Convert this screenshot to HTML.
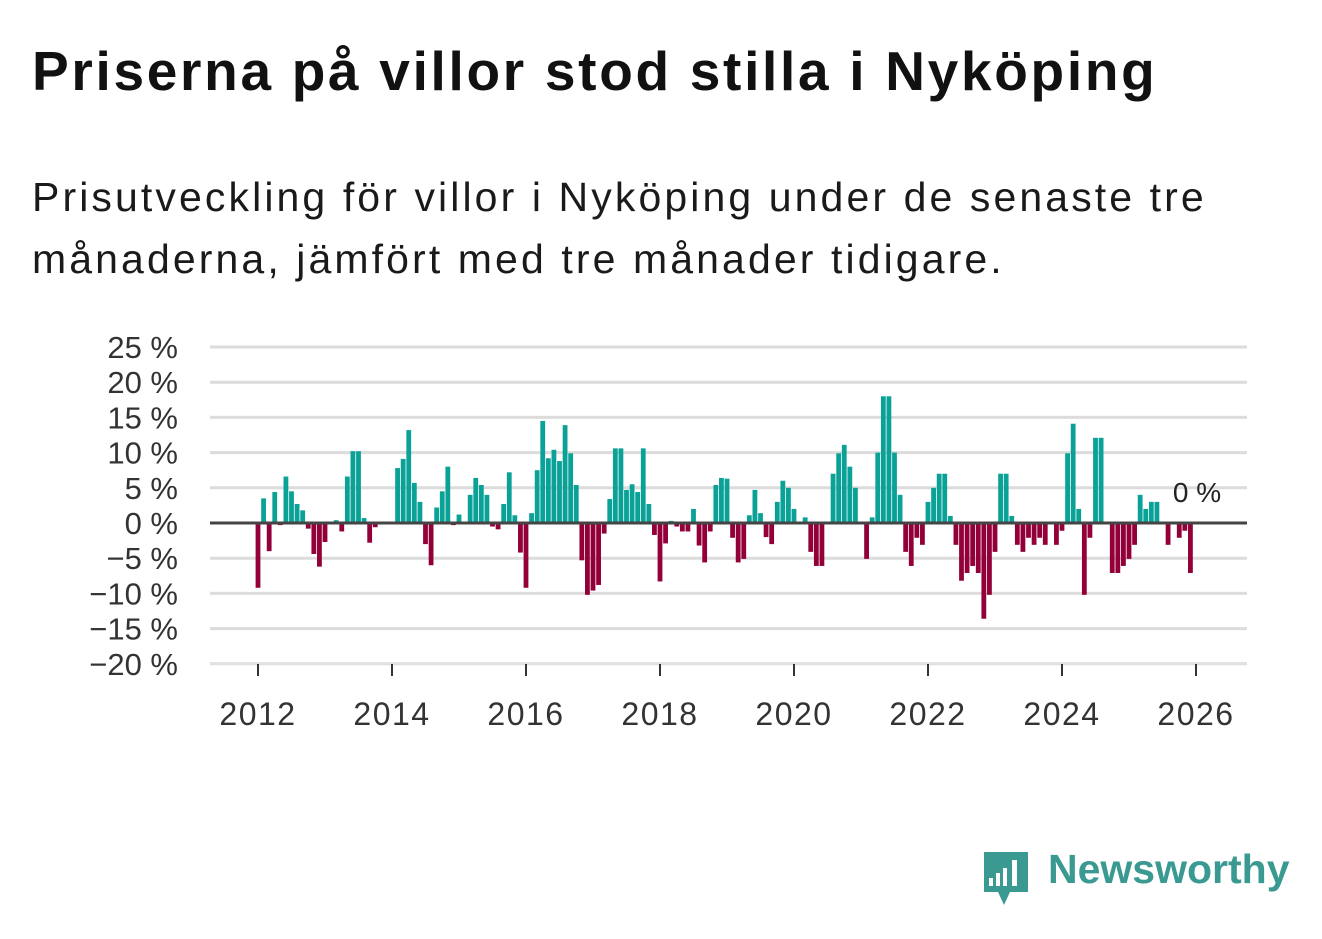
<!DOCTYPE html>
<html><head><meta charset="utf-8"><style>
body{margin:0;background:#fff;width:1322px;height:939px;overflow:hidden;font-family:"Liberation Sans","DejaVu Sans",sans-serif}
#t{position:absolute;left:32px;top:36px;font-size:55px;line-height:70px;font-weight:bold;color:#111;letter-spacing:2.7px;white-space:nowrap}
#s{position:absolute;left:32px;top:166px;font-size:41px;line-height:62px;color:#1a1a1a;width:1250px;letter-spacing:3.1px}
svg{position:absolute;left:0;top:0}
#logo{position:absolute;left:1048px;top:846px;font-size:41px;font-weight:bold;color:#3a9a92}
</style></head><body>
<div id="t">Priserna på villor stod stilla i Nyköping</div>
<div id="s">Prisutveckling för villor i Nyköping under de senaste tre månaderna, jämfört med tre månader tidigare.</div>
<svg width="1322" height="939" id="chart">
<g>
<path d="M984 852 h44 v40 h-18 l-6 13 l-6 -13 h-14 z" fill="#3a9a92"/>
<rect x="989" y="878" width="4" height="8" fill="#fff"/><rect x="996" y="873" width="4" height="13" fill="#fff"/><rect x="1003" y="868" width="4" height="18" fill="#fff"/><rect x="1012" y="860" width="5" height="26" fill="#fff"/>
</g>
</svg>
<div id="logo">Newsworthy</div>
<script>
const yTicks=[25,20,15,10,5,0,-5,-10,-15,-20];
const yTickLabels=["25 %","20 %","15 %","10 %","5 %","0 %","−5 %","−10 %","−15 %","−20 %"];
const xTicks=[2012,2014,2016,2018,2020,2022,2024,2026];
const startYear=2012;
const values=[-9.2,3.5,-4,4.4,-0.3,6.6,4.5,2.7,1.8,-0.8,-4.4,-6.2,
-2.7,0,0.4,-1.2,6.6,10.2,10.2,0.7,-2.8,-0.6,0,0,
0,7.8,9.1,13.2,5.7,3,-3,-6,2.2,4.5,8,-0.3,
1.2,0,4,6.4,5.4,4,-0.5,-0.9,2.7,7.2,1.1,-4.2,
-9.2,1.4,7.5,14.5,9.2,10.4,8.8,13.9,9.9,5.4,-5.3,-10.2,
-9.6,-8.8,-1.5,3.4,10.6,10.6,4.7,5.5,4.4,10.6,2.7,-1.7,
-8.3,-2.9,0.3,-0.5,-1.2,-1.2,2,-3.2,-5.6,-1.2,5.4,6.4,
6.3,-2.1,-5.6,-5.1,1.1,4.7,1.4,-2,-3,3,6,5,
2,0,0.8,-4.1,-6.1,-6.1,0,7,9.9,11.1,8,5,
0,-5.1,0.8,10,18,18,10,4,-4.1,-6.1,-2.1,-3.1,
3,5,7,7,1,-3.1,-8.2,-7.1,-6.1,-7.1,-13.6,-10.2,
-4.1,7,7,1,-3.1,-4.1,-2.1,-3.1,-2.1,-3.1,0,-3.1,
-1.1,9.9,14.1,2,-10.2,-2.1,12.1,12.1,0,-7.1,-7.1,-6.1,
-5.1,-3.1,4,2,3,3,0,-3.1,0,-2.1,-1.1,-7.1];
const lastLabel="0 %";
const NS="http://www.w3.org/2000/svg";
const svg=document.getElementById('chart');
function y(v){return 523-v*7.04;}
function x(m){return 258+m*(938/168);}
function mk(t,a){const e=document.createElementNS(NS,t);for(const k in a)e.setAttribute(k,a[k]);svg.appendChild(e);return e;}
yTicks.forEach((v,i)=>{
 if(v!==0){const l=mk('line',{x1:210,x2:1247,y1:y(v),y2:y(v),stroke:'#dcdcdc','stroke-width':3});
 
 }
 const t=mk('text',{x:178,y:y(v)+11,'text-anchor':'end','font-size':31,fill:'#333','font-family':'Liberation Sans, sans-serif'});
 t.textContent=yTickLabels[i];
 
 
});
{const l=mk('line',{x1:210,x2:1247,y1:664,y2:664,stroke:'#e6e6e6','stroke-width':1});

}
values.forEach((v,i)=>{
 if(v===0)return;
 const r=mk('rect',{x:x(i)-2.4,width:4.8,y:Math.min(y(v),523),height:Math.abs(y(v)-523),fill:v>0?'#0aa197':'#930039'});
 
 
});
{const l=mk('line',{x1:210,x2:1247,y1:523,y2:523,stroke:'#444','stroke-width':3});

}
xTicks.forEach(yr=>{
 const m=(yr-startYear)*12;
 const l=mk('line',{x1:x(m),x2:x(m),y1:664,y2:676,stroke:'#333','stroke-width':2});
 
 
 const t=mk('text',{x:x(m),y:725,'text-anchor':'middle','font-size':32,'letter-spacing':1.5,fill:'#333','font-family':'Liberation Sans, sans-serif'});
 t.textContent=yr;
 
 
});
{const t=mk('text',{x:1197,y:502,'text-anchor':'middle','font-size':28,fill:'#222','font-family':'Liberation Sans, sans-serif'});
t.textContent=lastLabel;

}
</script>
</body></html>
